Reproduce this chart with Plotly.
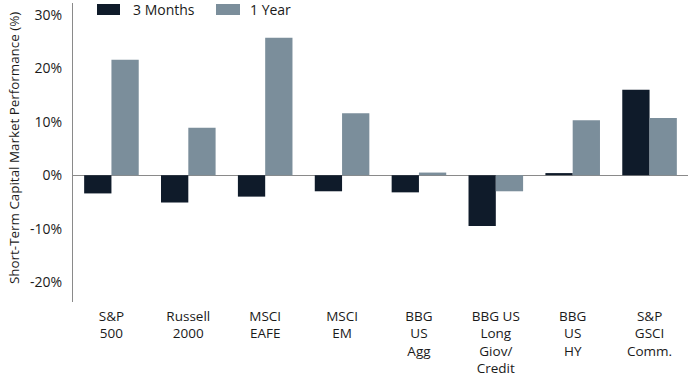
import plotly.graph_objects as go

categories = ["S&P<br>500", "Russell<br>2000", "MSCI<br>EAFE", "MSCI<br>EM",
              "BBG<br>US<br>Agg", "BBG US<br>Long<br>Giov/<br>Credit", "BBG<br>US<br>HY",
              "S&P<br>GSCI<br>Comm."]
three_months = [-3.4, -5.1, -4.0, -3.0, -3.2, -9.5, 0.4, 16.0]
one_year = [21.6, 8.9, 25.7, 11.6, 0.5, -3.0, 10.3, 10.7]
series_names = ["3 Months", "1 Year"]
colors = ["#0f1b2a", "#7b8e9b"]
tick_vals = [-20, -10, 0, 10, 20, 30]
tick_text = ["-20%", "-10%", "0%", "10%", "20%", "30%"]

fig = go.Figure()
fig.add_trace(go.Bar(x=categories, y=three_months, name=series_names[0],
                     marker=dict(color=colors[0], line=dict(width=0))))
fig.add_trace(go.Bar(x=categories, y=one_year, name=series_names[1],
                     marker=dict(color=colors[1], line=dict(width=0))))

fam = "Open Sans, Noto Sans, sans-serif"
font = dict(family=fam, size=14, color="#1a1a1a")
xfont = dict(family=fam, size=13.5, color="#1a1a1a")

L, T, W, H = 73, 3, 615, 299

fig.update_layout(
    width=691, height=376,
    margin=dict(l=L, r=691 - L - W, t=T, b=376 - T - H),
    paper_bgcolor="white", plot_bgcolor="white",
    barmode="group", bargap=0.29, bargroupgap=0,
    showlegend=False,
    font=font,
    xaxis=dict(showgrid=False, showline=False, ticks="", tickangle=0,
               ticklabelstandoff=4, tickfont=xfont, automargin=False),
    yaxis=dict(range=[-23.7, 32.2], tickvals=tick_vals, ticktext=tick_text,
               showgrid=False, showline=True, linecolor="#8a8a8a", linewidth=1,
               zeroline=True, zerolinecolor="#8a8a8a", zerolinewidth=1,
               ticks="", ticklabelstandoff=7, tickfont=font, automargin=False),
)

fig.add_annotation(xref="paper", yref="paper", x=(14 - L) / W, y=1 - (148 - T) / H,
                   text="Short-Term Capital Market Performance (%)", textangle=-90,
                   showarrow=False, xanchor="center", yanchor="middle",
                   font=dict(family=fam, size=13.4, color="#1a1a1a"))

# legend swatches and labels
legend_items = [(97, 120, 131), (216, 240, 248)]
for (x0, x1, tx), name, c in zip(legend_items, series_names, colors):
    fig.add_shape(type="rect", xref="paper", yref="paper",
                  x0=(x0 - L) / W, x1=(x1 - L) / W,
                  y0=1 - (15 - T) / H, y1=1 - (4 - T) / H,
                  fillcolor=c, line=dict(width=0))
    fig.add_annotation(xref="paper", yref="paper", x=(tx - L) / W,
                       y=1 - (9.5 - T) / H, text=name, showarrow=False,
                       xanchor="left", yanchor="middle", font=font)

fig.write_html("out.html", config={"displayModeBar": False},
               post_script="document.body.style.margin='0';document.body.style.padding='0';")
